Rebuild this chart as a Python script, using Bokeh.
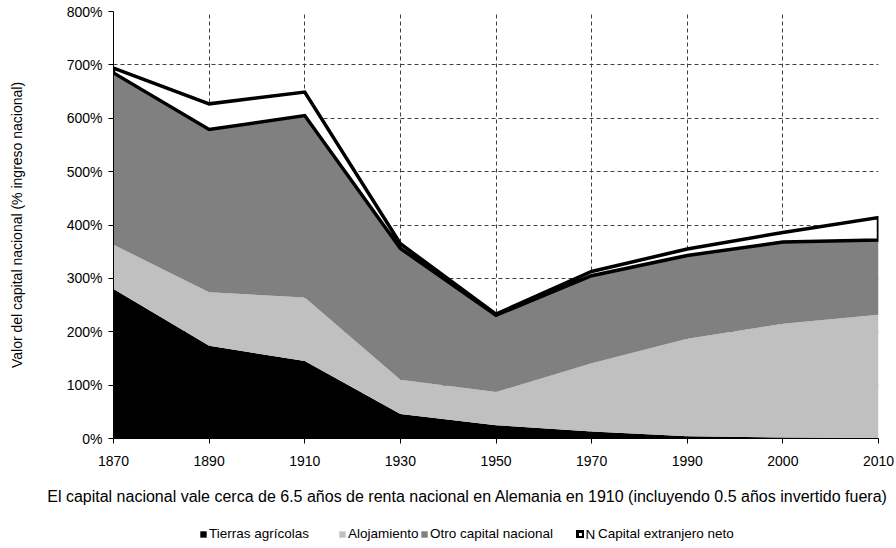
import numpy as np
from bokeh.plotting import figure
from bokeh.layouts import column
from bokeh.models import Range1d, FixedTicker, PrintfTickFormatter, Legend, LegendItem, Label
from bokeh.embed import file_html
from bokeh.resources import INLINE

years = ["1870", "1890", "1910", "1930", "1950", "1970", "1990", "2000", "2010"]
tierras = [280, 174, 145, 46, 25, 13, 4, 2, 1]
alojamiento = [83, 100, 119, 64, 62, 128, 183, 213, 231]
otro = [322, 305, 341, 246, 144, 164, 156, 153, 140]
extranjero = [9, 48, 44, 9, 2, 8, 12, 18, 42]
y_ticks = [0, 100, 200, 300, 400, 500, 600, 700, 800]
series_names = ["Tierras agrícolas", "Alojamiento", "Otro capital nacional", "Capital extranjero neto"]

FONT = "Liberation Sans"
C_BLACK, C_LIGHT, C_DARK = "black", "#C0C0C0", "#808080"

x = np.arange(len(years))
c1 = np.array(tierras, dtype=float)
c2 = c1 + np.array(alojamiento)
c3 = c2 + np.array(otro)
c4 = c3 + np.array(extranjero)
xs = np.concatenate([x, x[::-1]])
ys = np.concatenate([c4, c3[::-1]])

W = 896
H_MAIN = 476
H_BOTTOM = 548 - H_MAIN


def draw_series(fig):
    a = fig.varea(x=x, y1=0, y2=c1, fill_color=C_BLACK)
    b = fig.varea(x=x, y1=c1, y2=c2, fill_color=C_LIGHT)
    c = fig.varea(x=x, y1=c2, y2=c3, fill_color=C_DARK)
    d = fig.patch(xs, ys, fill_color="white", line_color="black", line_width=3.5, line_join="miter")
    return [a, b, c, d]


p = figure(width=W, height=H_MAIN, output_backend="svg", toolbar_location=None,
           x_range=Range1d(0, len(years) - 1), y_range=Range1d(0, 800),
           min_border_left=113, min_border_right=18, min_border_top=11,
           min_border_bottom=H_MAIN - 438)
p.frame_align = False
p.outline_line_color = None
p.background_fill_color = "white"
p.border_fill_color = "white"
draw_series(p)

# axes
p.xaxis.ticker = FixedTicker(ticks=[int(i) for i in x])
p.xaxis.major_label_overrides = {int(i): yr for i, yr in zip(x, years)}
p.yaxis.ticker = FixedTicker(ticks=y_ticks)
p.yaxis.formatter = PrintfTickFormatter(format="%d%%")
for ax in (p.xaxis, p.yaxis):
    ax.axis_line_color = "black"
    ax.axis_line_width = 1
    ax.major_tick_line_color = "black"
    ax.major_tick_out = 5
    ax.major_tick_in = 0
    ax.minor_tick_line_color = None
    ax.major_label_text_font = FONT
    ax.major_label_text_font_size = "14px"
    ax.major_label_text_color = "black"
p.xaxis.major_label_standoff = 12
p.yaxis.major_label_standoff = 6
p.yaxis.axis_label = "Valor del capital nacional (% ingreso nacional)"
p.yaxis.axis_label_text_font = FONT
p.yaxis.axis_label_text_font_size = "14px"
p.yaxis.axis_label_text_font_style = "normal"
p.yaxis.axis_label_text_color = "black"
p.yaxis.axis_label_standoff = 39

p.xgrid.ticker = FixedTicker(ticks=[int(i) for i in x])
p.ygrid.ticker = FixedTicker(ticks=y_ticks)
for g in (p.xgrid, p.ygrid):
    g.grid_line_color = "#404040"
    g.grid_line_dash = "4 3"
    g.grid_line_width = 1

# bottom strip: x title + legend (its ranges are kept away from the data,
# so the series only serve as legend keys there)
q = figure(width=W, height=H_BOTTOM, output_backend="svg", toolbar_location=None,
           x_axis_location=None, y_axis_location=None,
           x_range=Range1d(-20, -10), y_range=Range1d(-20, -10),
           min_border_left=0, min_border_right=0, min_border_top=0, min_border_bottom=0)
q.frame_align = False
q.outline_line_color = None
q.xgrid.visible = False
q.ygrid.visible = False
q.background_fill_color = "white"
q.border_fill_color = "white"

q.add_layout(Label(x=467, y=52, x_units="screen", y_units="screen",
                   text="El capital nacional vale cerca de 6.5 años de renta nacional en Alemania en 1910 (incluyendo 0.5 años invertido fuera)",
                   text_align="center", text_baseline="middle",
                   text_font=FONT, text_font_size="16px", text_color="black"))

keys = draw_series(q)
leg_x = [199, 338, 420, 576]
leg_standoff = [2, 2, 2, 14]
for name, rr, lx, so in zip(series_names, keys, leg_x, leg_standoff):
    lg = Legend(items=[LegendItem(label=name, renderers=[rr])], location=(lx, 7),
                orientation="horizontal", glyph_width=8, glyph_height=8,
                label_standoff=so, padding=0, margin=0, spacing=0,
                border_line_color=None, background_fill_alpha=0,
                label_text_font=FONT, label_text_font_size="13.5px", label_height=12,
                label_text_color="black")
    q.add_layout(lg, "center")
q.add_layout(Label(x=585, y=14, x_units="screen", y_units="screen", text="N",
                   text_align="left", text_baseline="middle",
                   text_font=FONT, text_font_size="13.5px", text_color="black"))

open("out.html", "w").write(file_html(column(p, q, spacing=0), INLINE))
